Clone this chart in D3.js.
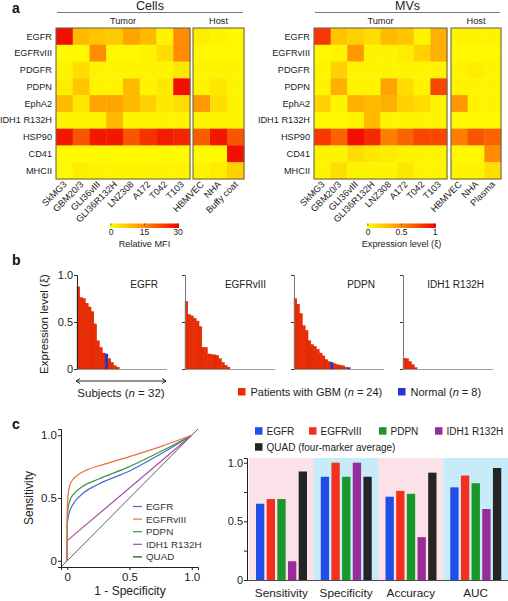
<!DOCTYPE html>
<html><head><meta charset="utf-8">
<script src="https://cdn.jsdelivr.net/npm/d3@7"></script>
<style>body{margin:0;background:#fff} svg{display:block;font-family:"Liberation Sans",Arial,Helvetica,sans-serif}</style>
</head><body>
<svg id="c" width="508" height="601"></svg>
<script>
// ---------------- DATA ----------------
const markers = ["EGFR","EGFRvIII","PDGFR","PDPN","EphA2","IDH1 R132H","HSP90","CD41","MHCII"];
const tumorLines = ["SkMG3","GBM20/3","GLI36vIII","GLI36R132H","LNZ308","A172","T042","T103"];
const hostCells = ["HBMVEC","NHA","Buffy coat"];
const hostMVs = ["HBMVEC","NHA","Plasma"];
// Cells: relative MFI (0-30)
const cellsTumor = [
  [28.5, 9, 7.5, 7, 12, 9, 1.5, 15],
  [0.6, 0.9, 15, 0.9, 0.9, 1.5, 4.5, 15],
  [1.5, 4.5, 1.5, 1.5, 1.5, 1.5, 1.5, 3],
  [2.4, 7.5, 1.5, 1.5, 9, 1.5, 3, 28.5],
  [9, 3, 12, 12, 9, 6, 3, 4.5],
  [1.5, 1.5, 1.5, 9, 1.5, 1.5, 1.5, 1.5],
  [27.5, 21, 27.5, 27.5, 21, 24.5, 27, 26],
  [0.6, 0.6, 0.6, 0.6, 0.6, 0.6, 0.6, 0.6],
  [0.9, 2.4, 1.5, 1.5, 1.5, 1.5, 1.5, 1.5]
];
const cellsHost = [
  [2.4, 1.5, 0.9],[0.9, 0.9, 0.9],[1.5, 1.5, 1.5],[1.5, 3, 1.5],[13.5, 4.5, 1.5],
  [1.5, 1.5, 1.5],[20, 27.5, 21],[0.6, 0.6, 28.5],[1.5, 2.4, 6]
];
// MVs: expression level (0-1)
const mvsTumor = [
  [0.8, 0.25, 0.2, 0.15, 0.3, 0.25, 0.05, 0.35],
  [0.03, 0.05, 0.45, 0.05, 0.05, 0.08, 0.2, 0.35],
  [0.05, 0.2, 0.05, 0.05, 0.05, 0.05, 0.05, 0.05],
  [0.05, 0.35, 0.05, 0.05, 0.4, 0.15, 0.05, 0.75],
  [0.2, 0.05, 0.35, 0.3, 0.35, 0.2, 0.15, 0.05],
  [0.03, 0.03, 0.05, 0.3, 0.05, 0.05, 0.05, 0.05],
  [0.8, 0.65, 0.95, 0.85, 0.55, 0.65, 0.75, 0.75],
  [0.05, 0.05, 0.15, 0.1, 0.08, 0.05, 0.05, 0.05],
  [0.05, 0.15, 0.05, 0.05, 0.05, 0.1, 0.05, 0.05]
];
const mvsHost = [
  [0.05, 0.05, 0.05],[0.03, 0.03, 0.03],[0.05, 0.08, 0.05],[0.05, 0.05, 0.05],[0.45, 0.05, 0.05],
  [0.03, 0.03, 0.03],[0.55, 0.7, 0.65],[0.03, 0.03, 0.5],[0.05, 0.05, 0.15]
];
const mfiTicks = [0, 15, 30];
const exprTicks = [0, 0.5, 1];

// Panel b: sorted expression levels of 32 subjects
const bMarkers = ["EGFR","EGFRvIII","PDPN","IDH1 R132H"];
const bEGFR = [0.875,0.76,0.75,0.70,0.66,0.61,0.48,0.30,0.23,0.17,0.16,0.11,0.07,0.035,0.02,0,0,0,0,0,0,0,0,0,0,0,0,0,0,0,0,0];
const bEGFRvIII = [0.72,0.58,0.565,0.54,0.51,0.45,0.23,0.23,0.16,0.155,0.15,0.145,0.11,0.07,0.04,0.02,0,0,0,0,0,0,0,0,0,0,0,0,0,0,0,0];
const bPDPN = [0.75,0.69,0.59,0.46,0.41,0.30,0.26,0.24,0.21,0.17,0.14,0.10,0.08,0.07,0.055,0.045,0.04,0.035,0.02,0.015,0,0,0,0,0,0,0,0,0,0,0,0];
const bIDH1 = [0.115,0.11,0.08,0.045,0.015,0,0,0,0,0,0,0,0,0,0,0,0,0,0,0,0,0,0,0,0,0,0,0,0,0,0,0];
const bNormalIdx = [[10,25,26,27,28,29,30,31],[24,25,26,27,28,29,30,31],[13,19,26,27,28,29,30,31],[25,26,27,28,29,30,31,24]];
const bTicks = [0, 0.5, 1];

// Panel c: ROC curves (1-specificity, sensitivity)
const rocNames = ["EGFR","EGFRvIII","PDPN","IDH1 R132H","QUAD"];
const rocEGFR = [[0,0],[0,0.28],[0.005,0.33],[0.015,0.38],[0.03,0.42],[0.06,0.47],[0.13,0.54],[0.25,0.61],[0.5,0.715],[0.75,0.85],[1,1]];
const rocEGFRvIII = [[0,0],[0,0.42],[0.005,0.5],[0.01,0.55],[0.02,0.6],[0.04,0.64],[0.08,0.68],[0.15,0.72],[0.3,0.77],[0.5,0.83],[0.75,0.91],[1,1]];
const rocPDPN = [[0,0],[0,0.33],[0.005,0.4],[0.015,0.46],[0.03,0.5],[0.06,0.54],[0.12,0.59],[0.25,0.65],[0.5,0.75],[0.75,0.87],[1,1]];
const rocIDH1 = [[0,0],[0,0.16],[1,1]];
const rocQUAD = [[-0.05,-0.05],[1.05,1.05]];
const rocTicks = [0, 0.5, 1];

// Panel c: performance bars
const metrics = ["Sensitivity","Specificity","Accuracy","AUC"];
const perfNames = ["EGFR","EGFRvIII","PDPN","IDH1 R132H","QUAD (four-marker average)"];
const perfEGFR = [0.65, 0.88, 0.71, 0.79];
const perfEGFRvIII = [0.69, 1.0, 0.76, 0.89];
const perfPDPN = [0.69, 0.88, 0.735, 0.825];
const perfIDH1 = [0.16, 1.0, 0.365, 0.605];
const perfQUAD = [0.925, 0.88, 0.915, 0.955];
const perfTicks = [0, 0.5, 1];

// ---------------- DRAW ----------------
const svg = d3.select("#c");
svg.append("rect").attr("width",508).attr("height",601).attr("fill","#fff");
const heatColor = d3.scaleLinear().domain([0,0.5,1]).range(["#ffff00","#ff8c00","#f00000"]).clamp(true);

function panelLabel(t,x,y){
  svg.append("text").attr("x",x).attr("y",y).attr("font-size",14).attr("font-weight","bold").attr("fill","#111").text(t);
}
panelLabel("a",12,13); panelLabel("b",12,265); panelLabel("c",12,429);

const defs = svg.append("defs");
const grad = defs.append("linearGradient").attr("id","hg");
d3.range(0,1.0001,0.1).forEach(t=>grad.append("stop").attr("offset",t).attr("stop-color",heatColor(t)));

function drawHeat(cfg){
  const g = svg.append("g");
  const y = d3.scaleBand().domain(markers).range([28,179]);
  const xt = d3.scaleBand().domain(tumorLines).range(cfg.tumorRange);
  const xh = d3.scaleBand().domain(cfg.hostCols).range(cfg.hostRange);
  markers.forEach((m,i)=>{
    g.selectAll(null).data(cfg.tumor[i]).join("rect")
      .attr("x",(d,j)=>xt(tumorLines[j])).attr("y",y(m))
      .attr("width",xt.bandwidth()+0.4).attr("height",y.bandwidth()+0.4)
      .attr("fill",d=>heatColor(d/cfg.max));
    g.selectAll(null).data(cfg.host[i]).join("rect")
      .attr("x",(d,j)=>xh(cfg.hostCols[j])).attr("y",y(m))
      .attr("width",xh.bandwidth()+0.4).attr("height",y.bandwidth()+0.4)
      .attr("fill",d=>heatColor(d/cfg.max));
  });
  [cfg.tumorRange,cfg.hostRange].forEach(r=>{
    g.append("rect").attr("x",r[0]).attr("y",28).attr("width",r[1]-r[0]).attr("height",151)
      .attr("fill","none").attr("stroke","#6e6650").attr("stroke-width",1.1);
  });
  g.selectAll(null).data(markers).join("text")
    .attr("x",cfg.tumorRange[0]-4).attr("y",d=>y(d)+y.bandwidth()/2).attr("dy","0.35em")
    .attr("text-anchor","end").attr("font-size",9.2).attr("fill","#222").text(d=>d);
  const cols = tumorLines.map(c=>({c,x:xt(c)+xt.bandwidth()/2}))
    .concat(cfg.hostCols.map(c=>({c,x:xh(c)+xh.bandwidth()/2})));
  g.selectAll(null).data(cols).join("text")
    .attr("transform",d=>`translate(${d.x+3},185) rotate(-45)`)
    .attr("text-anchor","end").attr("font-size",9.2).attr("fill","#222").text(d=>d.c);
  const cx = (cfg.tumorRange[0]+cfg.hostRange[1])/2;
  g.append("text").attr("x",cx).attr("y",10).attr("text-anchor","middle").attr("font-size",12.5).attr("fill","#222").text(cfg.title);
  g.append("line").attr("x1",cfg.tumorRange[0]+1).attr("x2",cfg.hostRange[1]-1).attr("y1",12.5).attr("y2",12.5).attr("stroke","#555").attr("stroke-width",0.8);
  g.append("text").attr("x",(cfg.tumorRange[0]+cfg.tumorRange[1])/2).attr("y",24).attr("text-anchor","middle").attr("font-size",9.2).attr("fill","#222").text("Tumor");
  g.append("text").attr("x",(cfg.hostRange[0]+cfg.hostRange[1])/2).attr("y",24).attr("text-anchor","middle").attr("font-size",9.2).attr("fill","#222").text("Host");
  // colorbar
  const cb = d3.scaleLinear().domain([0,cfg.max]).range(cfg.cbRange);
  g.append("rect").attr("x",cfg.cbRange[0]-1).attr("y",223.5).attr("width",cfg.cbRange[1]-cfg.cbRange[0]+2).attr("height",4.5).attr("fill","url(#hg)");
  g.selectAll(null).data(cfg.ticks).join("line").attr("x1",d=>cb(d)).attr("x2",d=>cb(d)).attr("y1",223.5).attr("y2",225.5).attr("stroke","#444").attr("stroke-width",0.8);
  g.selectAll(null).data(cfg.ticks).join("text").attr("x",d=>cb(d)).attr("y",235).attr("text-anchor","middle").attr("font-size",8.5).attr("fill","#222").text(d=>d);
  g.append("text").attr("x",(cfg.cbRange[0]+cfg.cbRange[1])/2).attr("y",246.5).attr("text-anchor","middle").attr("font-size",9.2).attr("fill","#222").text(cfg.cbLabel);
}
drawHeat({title:"Cells",tumor:cellsTumor,host:cellsHost,hostCols:hostCells,max:30,
  tumorRange:[56,190],hostRange:[193,244],cbRange:[111,178],ticks:mfiTicks,cbLabel:"Relative MFI"});
drawHeat({title:"MVs",tumor:mvsTumor,host:mvsHost,hostCols:hostMVs,max:1,
  tumorRange:[314,447],hostRange:[451,501],cbRange:[368,435],ticks:exprTicks,cbLabel:"Expression level (\u03BE)"});

// ---- Panel b ----
const bVals = [bEGFR,bEGFRvIII,bPDPN,bIDH1];
const bX0 = [77,185,294,403];
const yb = d3.scaleLinear().domain([0,1]).range([369,275]);
bMarkers.forEach((m,k)=>{
  const g = svg.append("g");
  const x = d3.scaleBand().domain(d3.range(32)).range([bX0[k],bX0[k]+90]);
  const norm = new Set(bNormalIdx[k]);
  g.selectAll(null).data(bVals[k]).join("rect")
    .attr("x",(d,i)=>x(i)).attr("width",x.bandwidth())
    .attr("y",d=>yb(d)).attr("height",d=>yb(0)-yb(d))
    .attr("fill",(d,i)=>norm.has(i)?"#2436d0":"#f02a00")
    .attr("stroke",(d,i)=>d>0?(norm.has(i)?"#1a2590":"#b82000"):"none").attr("stroke-width",0.35);
  const ax = g.append("g").attr("transform",`translate(${bX0[k]},0)`)
    .call(d3.axisLeft(yb).tickValues(bTicks).tickSize(3).tickFormat(k===0?(d=>d===0?"0":d3.format(".1f")(d)):""));
  ax.select(".domain").attr("stroke",k===0?"#222":"#777");
  ax.selectAll(".tick line").attr("stroke","#333");
  ax.selectAll(".tick text").attr("font-size",11).attr("fill","#222").attr("font-family","Liberation Sans, Arial, sans-serif").attr("x",-4);
  g.append("line").attr("x1",bX0[k]).attr("x2",bX0[k]+90).attr("y1",yb(0)+0.5).attr("y2",yb(0)+0.5).attr("stroke","#888").attr("stroke-width",0.8);
  g.append("text").attr("x",bX0[k]+81).attr("y",288).attr("text-anchor","end").attr("font-size",10).attr("fill","#222").text(m);
});
svg.append("text").attr("transform","translate(48,324) rotate(-90)").attr("text-anchor","middle").attr("font-size",11.5).attr("fill","#222").text("Expression level (\u03BE)");
// subjects arrow
svg.append("line").attr("x1",76).attr("x2",166).attr("y1",381).attr("y2",381).attr("stroke","#111").attr("stroke-width",0.9);
svg.append("path").attr("d","M80,378.5 L76,381 L80,383.5 M162,378.5 L166,381 L162,383.5").attr("fill","none").attr("stroke","#111").attr("stroke-width",0.9);
const subj = svg.append("text").attr("x",121).attr("y",397).attr("text-anchor","middle").attr("font-size",11.5).attr("fill","#222");
subj.append("tspan").text("Subjects (");
subj.append("tspan").attr("font-style","italic").text("n");
subj.append("tspan").text(" = 32)");
// legend b
const lgB = [{c:"#f02a00",t:"Patients with GBM",n:"24",x:238},{c:"#2436d0",t:"Normal",n:"8",x:398}];
lgB.forEach(d=>{
  svg.append("rect").attr("x",d.x).attr("y",388).attr("width",7.5).attr("height",7.5).attr("fill",d.c);
  const t = svg.append("text").attr("x",d.x+12.5).attr("y",396).attr("font-size",11).attr("fill","#222");
  t.append("tspan").text(d.t+" (");
  t.append("tspan").attr("font-style","italic").text("n");
  t.append("tspan").text(" = "+d.n+")");
});

// ---- Panel c: ROC ----
const xr = d3.scaleLinear().domain([-0.05,1.05]).range([61,198]);
const yr = d3.scaleLinear().domain([-0.05,1.05]).range([567,429]);
const rocData = [rocEGFR,rocEGFRvIII,rocPDPN,rocIDH1,rocQUAD];
const rocColors = ["#4a6ad4","#f26b3e","#3a9a3a","#a24ea6","#333"];
const lineGen = d3.line().x(d=>xr(d[0])).y(d=>yr(d[1])).curve(d3.curveMonotoneX);
const lineLin = d3.line().x(d=>xr(d[0])).y(d=>yr(d[1]));
[4,3,0,2,1].forEach(i=>{
  const pts = rocData[i];
  const vert = pts.filter(p=>p[0]===0);
  const lastZero = pts.findLastIndex(q=>q[0]===0);
  const rest = pts.filter((p,j)=>p[0]!==0 || j===lastZero);
  if(vert.length>1) svg.append("path").attr("d",lineLin(vert)).attr("fill","none").attr("stroke",rocColors[i]).attr("stroke-width",1.2);
  svg.append("path").attr("d",(i>=3?lineLin:lineGen)(rest)).attr("fill","none").attr("stroke",rocColors[i]).attr("stroke-width",i===4?0.8:1.2);
});
const axR = svg.append("g").attr("transform","translate(61,0)").call(d3.axisLeft(yr).tickValues(rocTicks).tickSize(3).tickFormat(d=>d===0?"0":d3.format(".1f")(d)));
const axRx = svg.append("g").attr("transform","translate(0,567)").call(d3.axisBottom(xr).tickValues(rocTicks).tickSize(3).tickFormat(d=>d===0?"0":d3.format(".1f")(d)));
[axR,axRx].forEach(a=>{
  a.select(".domain").attr("stroke","#222");
  a.selectAll(".tick line").attr("stroke","#222");
  a.selectAll(".tick text").attr("font-size",11.5).attr("fill","#222").attr("font-family","Liberation Sans, Arial, sans-serif");
});
axR.selectAll(".tick text").attr("x",-4);
axRx.selectAll(".tick text").attr("y",6);
svg.append("text").attr("transform","translate(33,498) rotate(-90)").attr("text-anchor","middle").attr("font-size",12).attr("fill","#222").text("Sensitivity");
svg.append("text").attr("x",130).attr("y",595).attr("text-anchor","middle").attr("font-size",12).attr("fill","#222").text("1 - Specificity");
rocNames.forEach((n,i)=>{
  const yy = 506.5 + i*12.6;
  svg.append("line").attr("x1",133).attr("x2",142).attr("y1",yy).attr("y2",yy).attr("stroke",rocColors[i]).attr("stroke-width",1.2);
  svg.append("text").attr("x",146).attr("y",yy).attr("dy","0.35em").attr("font-size",9.8).attr("fill","#333").text(n);
});

// ---- Panel c: performance bars ----
const perfData = [perfEGFR,perfEGFRvIII,perfPDPN,perfIDH1,perfQUAD];
const perfColors = ["#1f4fe6","#f4301c","#1a962a","#982c98","#242424"];
const xm = d3.scaleBand().domain(metrics).range([249,508]);
const xs = d3.scaleBand().domain(d3.range(5)).range([7,58]).paddingInner(0.22);
const yp = d3.scaleLinear().domain([0,1.04]).range([580,458]);
svg.selectAll(null).data(metrics).join("rect")
  .attr("x",d=>xm(d)).attr("width",xm.bandwidth()+0.3).attr("y",yp(1.04)).attr("height",yp(0)-yp(1.04))
  .attr("fill",(d,i)=>i%2===0?"#fbe2e9":"#c7ebf8");
perfData.forEach((arr,k)=>{
  svg.selectAll(null).data(arr).join("rect")
    .attr("x",(d,i)=>xm(metrics[i])+xs(k)).attr("width",xs.bandwidth())
    .attr("y",d=>yp(d)).attr("height",d=>yp(0)-yp(d)).attr("fill",perfColors[k]);
});
const axP = svg.append("g").attr("transform","translate(247,0)")
  .call(d3.axisLeft(yp).tickValues([0,0.25,0.5,0.75,1]).tickSize(3).tickFormat(d=>perfTicks.includes(d)?(d===0?"0":d3.format(".1f")(d)):""));
axP.select(".domain").attr("stroke","#222");
axP.selectAll(".tick line").attr("stroke","#222");
axP.selectAll(".tick text").attr("font-size",11).attr("fill","#222").attr("font-family","Liberation Sans, Arial, sans-serif").attr("x",-4);
svg.append("line").attr("x1",247).attr("x2",508).attr("y1",580.5).attr("y2",580.5).attr("stroke","#222").attr("stroke-width",0.8);
svg.selectAll(null).data(metrics).join("text")
  .attr("x",d=>xm(d)+xm.bandwidth()/2).attr("y",597).attr("text-anchor","middle").attr("font-size",11.8).attr("fill","#222").text(d=>d);
// legend
const lgPos = [[255,431],[309,431],[379,431],[435,431],[255,447]];
perfNames.forEach((n,i)=>{
  svg.append("rect").attr("x",lgPos[i][0]).attr("y",lgPos[i][1]-3.8).attr("width",7.5).attr("height",7.5).attr("fill",perfColors[i]);
  svg.append("text").attr("x",lgPos[i][0]+11.5).attr("y",lgPos[i][1]).attr("dy","0.35em").attr("font-size",10).attr("fill","#222").text(n);
});
</script>
</body></html>
